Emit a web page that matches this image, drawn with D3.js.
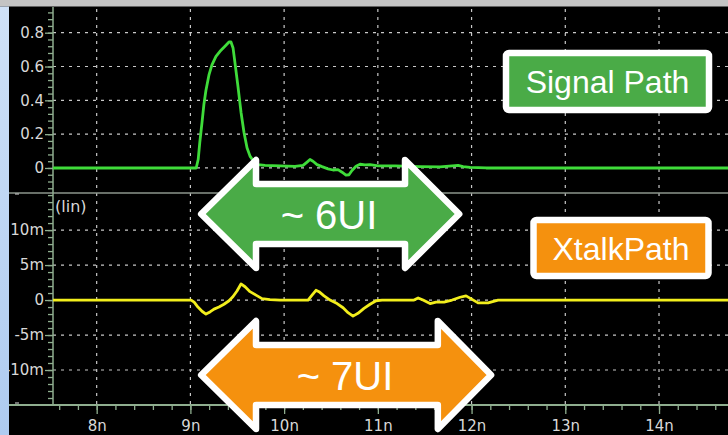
<!DOCTYPE html>
<html>
<head>
<meta charset="utf-8">
<script src="https://cdn.jsdelivr.net/npm/d3@7"></script>
<style>
  html, body { margin: 0; padding: 0; background: #000; }
  svg { display: block; }
  .tick text { font-family: "DejaVu Sans", sans-serif; }
</style>
</head>
<body>
<svg id="chart" width="728" height="435"></svg>
<script>
// ---- data -------------------------------------------------------------
// time axis (ns)
const timeTicks = [8, 9, 10, 11, 12, 13, 14];
const timeLabels = ["8n", "9n", "10n", "11n", "12n", "13n", "14n"];

// signal path pulse response (linear volts)
const signalTime = [7.534, 9.062, 9.083, 9.10, 9.124, 9.145, 9.166, 9.198, 9.23, 9.273, 9.316, 9.369, 9.412, 9.433,
  9.455, 9.476, 9.508, 9.54, 9.572, 9.604, 9.636, 9.679, 9.721, 9.796, 9.956, 10.116, 10.202, 10.245, 10.276,
  10.308, 10.351, 10.404, 10.468, 10.522, 10.575, 10.618, 10.66, 10.692, 10.724, 10.767, 10.81, 10.863, 10.917,
  11.002, 11.183, 11.45, 11.664, 11.792, 11.856, 11.91, 11.985, 12.155, 14.736];
const signalValue = [0, 0, 0.05, 0.15, 0.27, 0.38, 0.46, 0.55, 0.61, 0.66, 0.69, 0.72, 0.745, 0.745,
  0.71, 0.62, 0.48, 0.33, 0.21, 0.12, 0.07, 0.035, 0.02, 0.015, 0.013, 0.01, 0.015, 0.035, 0.05,
  0.04, 0.02, 0.008, -0.005, -0.012, -0.01, -0.025, -0.042, -0.04, -0.015, 0.01, 0.022, 0.018, 0.02,
  0.012, 0.012, 0.008, 0.006, 0.012, 0.015, 0.008, 0.003, 0, 0];

// crosstalk path response (millivolts, shown with "m" suffix)
const xtalkTime = [7.534, 9.008, 9.04, 9.08, 9.124, 9.166, 9.209, 9.252, 9.305, 9.358, 9.412, 9.455, 9.497, 9.54,
  9.583, 9.636, 9.70, 9.764, 9.849, 9.956, 10.255, 10.298, 10.34, 10.372, 10.426, 10.49, 10.565, 10.629,
  10.682, 10.735, 10.788, 10.852, 10.917, 10.981, 11.045, 11.386, 11.43, 11.482, 11.557, 11.621, 11.706,
  11.792, 11.877, 11.941, 12.005, 12.069, 12.176, 12.283, 14.736];
const xtalkValue = [0, 0, -0.3, -1.0, -1.6, -2.0, -1.7, -1.3, -1.0, -0.6, -0.1, 0.5, 1.3, 2.3,
  1.9, 1.2, 0.7, 0.2, 0.05, 0, 0, 0.7, 1.4, 1.2, 0.6, 0.0, -0.5, -1.1,
  -1.8, -2.3, -1.9, -1.2, -0.6, -0.1, 0, 0, 0.3, 0.0, -0.5, -0.3, -0.3,
  0.0, 0.4, 0.6, 0.1, -0.4, -0.4, 0, 0];

// y ticks
const signalTicks = [0, 0.2, 0.4, 0.6, 0.8];
const signalLabels = ["0", "0.2", "0.4", "0.6", "0.8"];
const xtalkTicks = [-10, -5, 0, 5, 10];
const xtalkLabels = ["-10m", "-5m", "0", "5m", "10m"];

// span annotations (ns) and their captions
const spanNames = ["~ 6UI", "~ 7UI"];
const spanStart = [9.083, 9.083];
const spanEnd = [11.90, 12.24];
const spanInnerStart = [9.70, 9.70];
const spanInnerEnd = [11.29, 11.64];

// ---- layout -----------------------------------------------------------
const W = 728, H = 435;
const left = 53, plotRight = 728;
const topY = 7, sepY = 193, bottomY = 405;

const svg = d3.select("#chart");

const x = d3.scaleLinear().domain([7.534, 14.736]).range([left, plotRight]);
const yTop = d3.scaleLinear().domain([-0.148, 0.952]).range([sepY, topY]);
const yBot = d3.scaleLinear().domain([-15, 15.3]).range([bottomY, sepY]);

// black scope area
svg.append("rect").attr("x", 0).attr("y", 0).attr("width", W).attr("height", H).attr("fill", "#000");

// ---- grid -------------------------------------------------------------
const grid = svg.append("g").attr("stroke", "#c8c8c8").attr("stroke-width", 1.2).attr("stroke-dasharray", "3,5");
grid.selectAll("line.v").data(timeTicks).join("line")
  .attr("x1", d => x(d)).attr("x2", d => x(d)).attr("y1", topY + 2).attr("y2", bottomY);
grid.selectAll("line.ht").data(signalTicks).join("line")
  .attr("x1", left).attr("x2", plotRight).attr("y1", d => yTop(d)).attr("y2", d => yTop(d));
grid.selectAll("line.hb").data(xtalkTicks).join("line")
  .attr("x1", left).attr("x2", plotRight).attr("y1", d => yBot(d)).attr("y2", d => yBot(d));

// panel separator and axis frame
const axisColor = "#8fae8f";
svg.append("line").attr("x1", 9).attr("x2", W).attr("y1", sepY).attr("y2", sepY).attr("stroke", "#8c968c").attr("stroke-width", 1.5);
svg.append("line").attr("x1", 9).attr("x2", W).attr("y1", bottomY).attr("y2", bottomY).attr("stroke", axisColor).attr("stroke-width", 2);
svg.append("line").attr("x1", left).attr("x2", left).attr("y1", topY).attr("y2", bottomY).attr("stroke", axisColor).attr("stroke-width", 1.5);
// clipped label stubs at the panel borders
svg.append("line").attr("x1", 15).attr("x2", 19).attr("y1", sepY + 1).attr("y2", sepY + 1).attr("stroke", "#bbb").attr("stroke-width", 1.2);
svg.append("line").attr("x1", 15).attr("x2", 19).attr("y1", bottomY - 2).attr("y2", bottomY - 2).attr("stroke", "#bbb").attr("stroke-width", 1.2);

// ---- axes -------------------------------------------------------------
function styleAxis(g) {
  g.select(".domain").remove();
  g.selectAll(".tick line").attr("stroke", axisColor).attr("stroke-width", 1.3);
  g.selectAll(".tick text").attr("fill", "#d8d8d8").attr("font-size", 15);
}

const minorTop = d3.range(-0.12, 0.93, 0.04).map(v => +v.toFixed(2));
svg.append("g").attr("transform", `translate(${left},0)`)
  .call(d3.axisLeft(yTop).tickValues(minorTop).tickSize(5).tickFormat(""))
  .call(styleAxis);
svg.append("g").attr("transform", `translate(${left},0)`)
  .call(d3.axisLeft(yTop).tickValues(signalTicks).tickSize(8).tickPadding(1)
    .tickFormat((d, i) => signalLabels[i]))
  .call(styleAxis);

const minorBot = d3.range(-14, 16, 1);
svg.append("g").attr("transform", `translate(${left},0)`)
  .call(d3.axisLeft(yBot).tickValues(minorBot).tickSize(5).tickFormat(""))
  .call(styleAxis);
svg.append("g").attr("transform", `translate(${left},0)`)
  .call(d3.axisLeft(yBot).tickValues(xtalkTicks).tickSize(8).tickPadding(1)
    .tickFormat((d, i) => xtalkLabels[i]))
  .call(styleAxis);

const minorX = d3.range(7.6, 14.7, 0.2).map(v => +v.toFixed(1));
svg.append("g").attr("transform", `translate(0,${bottomY})`)
  .call(d3.axisBottom(x).tickValues(minorX).tickSize(5).tickFormat(""))
  .call(styleAxis);
svg.append("g").attr("transform", `translate(0,${bottomY})`)
  .call(d3.axisBottom(x).tickValues(timeTicks).tickSize(9).tickPadding(6)
    .tickFormat((d, i) => timeLabels[i]))
  .call(styleAxis);

svg.append("text").attr("x", left + 2).attr("y", 212)
  .attr("font-family", "DejaVu Sans, sans-serif").attr("font-size", 16).attr("fill", "#d8d8d8")
  .text("(lin)");

// ---- traces -----------------------------------------------------------
const signalLine = d3.line().x((d, i) => x(signalTime[i])).y(d => yTop(d));
svg.append("path").datum(signalValue).attr("d", signalLine)
  .attr("fill", "none").attr("stroke", "#3fdc3a").attr("stroke-width", 2.8).attr("stroke-linejoin", "round");

const xtalkLine = d3.line().x((d, i) => x(xtalkTime[i])).y(d => yBot(d));
svg.append("path").datum(xtalkValue).attr("d", xtalkLine)
  .attr("fill", "none").attr("stroke", "#f2ee1c").attr("stroke-width", 2.8).attr("stroke-linejoin", "round");

// ---- window chrome (drawn over the scope edge) ---------------------------
svg.append("rect").attr("x", 0).attr("y", 0).attr("width", W).attr("height", 6.5).attr("fill", "#c4c4c4");
const grad = svg.append("defs").append("linearGradient").attr("id", "side").attr("x1", 0).attr("x2", 0).attr("y1", 0).attr("y2", 1);
grad.append("stop").attr("offset", "0%").attr("stop-color", "#cfe1f7");
grad.append("stop").attr("offset", "100%").attr("stop-color", "#aecbf0");
svg.append("rect").attr("x", 0).attr("y", 6.5).attr("width", 9).attr("height", H - 6.5).attr("fill", "url(#side)");

// ---- labels -----------------------------------------------------------
function tag(cx, cy, w, h, fill, label) {
  svg.append("rect").attr("x", cx - w / 2).attr("y", cy - h / 2).attr("width", w).attr("height", h)
    .attr("rx", 3).attr("fill", fill).attr("stroke", "#fff").attr("stroke-width", 6.5);
  svg.append("text").attr("x", cx).attr("y", cy + 11.5).attr("text-anchor", "middle")
    .attr("font-family", "Liberation Sans, Arial, sans-serif").attr("font-size", 32).attr("fill", "#fff")
    .text(label);
}
tag(607.5, 81.5, 203, 57, "#4aab47", "Signal Path");
tag(621, 248, 175, 56, "#f5910e", "XtalkPath");

// double-headed span arrows
const spanColor = ["#4aab47", "#f5910e"];
const spanY = [214, 375];
const shaftHalf = [30, 30];
const headHalf = [54, 54];
const spanTextX = [329, 345];

spanNames.forEach((name, i) => {
  const a = x(spanStart[i]) + 3, b = x(spanInnerStart[i]), c = x(spanInnerEnd[i]), e = x(spanEnd[i]) - 3;
  const cy = spanY[i], s = shaftHalf[i], h = headHalf[i];
  const pts = [[a, cy], [b, cy - h], [b, cy - s], [c, cy - s], [c, cy - h], [e, cy],
               [c, cy + h], [c, cy + s], [b, cy + s], [b, cy + h]];
  svg.append("path").attr("d", d3.line()(pts) + "Z")
    .attr("fill", spanColor[i]).attr("stroke", "#fff").attr("stroke-width", 6.5).attr("stroke-linejoin", "round");
  svg.append("text").attr("x", spanTextX[i]).attr("y", cy + 15).attr("text-anchor", "middle")
    .attr("font-family", "Liberation Sans, Arial, sans-serif").attr("font-size", 40).attr("fill", "#fff")
    .text(name);
});
</script>
</body>
</html>
